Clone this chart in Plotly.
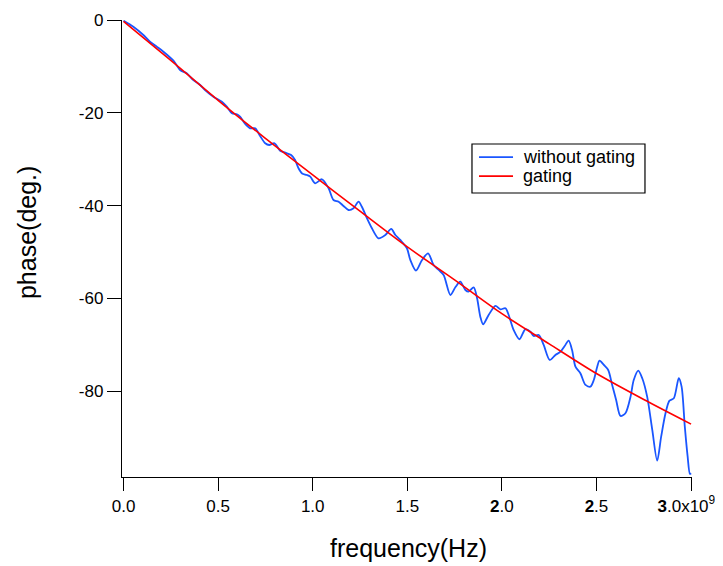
import plotly.graph_objects as go

# frequency in units of 1e9 Hz
freq_blue = [0.0, 0.052, 0.105, 0.140, 0.176, 0.211, 0.264, 0.299, 0.334, 0.369,
             0.405, 0.431, 0.475, 0.520, 0.546, 0.573, 0.599, 0.616, 0.643, 0.669,
             0.696, 0.722, 0.749, 0.770, 0.798, 0.828, 0.855, 0.886, 0.907, 0.925,
             0.944, 0.969, 0.987, 1.013, 1.049, 1.084, 1.110, 1.137, 1.163, 1.189,
             1.216, 1.242, 1.260, 1.287, 1.313, 1.348, 1.384, 1.415, 1.437, 1.463,
             1.498, 1.516, 1.546, 1.578, 1.610, 1.639, 1.666, 1.692, 1.728, 1.754,
             1.780, 1.807, 1.824, 1.851, 1.869, 1.886, 1.901, 1.930, 1.966, 1.992,
             2.019, 2.036, 2.062, 2.093, 2.124, 2.151, 2.168, 2.195, 2.221, 2.253,
             2.283, 2.310, 2.332, 2.353, 2.371, 2.389, 2.415, 2.442, 2.468, 2.486,
             2.504, 2.516, 2.539, 2.562, 2.583, 2.604, 2.627, 2.653, 2.680, 2.697,
             2.721, 2.742, 2.768, 2.795, 2.821, 2.842, 2.865, 2.886, 2.909, 2.935,
             2.950, 2.967, 2.982, 2.994, 3.000]
phase_blue = [-0.15, -1.44, -3.23, -4.68, -5.75, -6.83, -8.77, -10.78, -11.49, -12.93,
              -14.01, -15.09, -16.53, -17.61, -18.69, -20.11, -20.32, -20.84, -22.41, -23.34,
              -23.34, -25.00, -26.57, -26.94, -26.57, -28.17, -28.60, -29.09, -30.17, -31.96,
              -33.08, -33.41, -33.77, -35.19, -34.33, -36.27, -38.79, -39.16, -40.09, -40.95,
              -40.58, -39.16, -40.24, -42.74, -44.89, -47.05, -46.34, -45.04, -46.34, -47.41,
              -49.20, -51.72, -54.03, -51.72, -50.28, -52.80, -53.88, -54.96, -59.27, -57.61,
              -56.40, -58.19, -58.56, -57.61, -59.98, -63.94, -65.58, -63.58, -61.64, -62.35,
              -62.13, -63.58, -66.81, -68.81, -66.66, -67.18, -68.10, -67.89, -70.04, -73.28,
              -72.20, -71.49, -70.26, -69.12, -71.12, -74.72, -76.14, -78.66, -79.03, -77.59,
              -74.72, -73.43, -74.35, -75.43, -78.66, -81.90, -85.34, -84.76, -81.19, -77.59,
              -75.58, -77.22, -81.19, -88.36, -94.98, -89.81, -84.76, -82.05, -81.53, -77.22,
              -79.03, -87.65, -94.12, -97.84, -97.69]

freq_red = [0.0, 0.25, 0.5, 0.75, 1.0, 1.25, 1.5, 1.75, 2.0, 2.25, 2.5, 2.75, 3.0]
phase_red = [-0.3, -8.7, -17.3, -25.5, -33.4, -41.2, -48.9, -56.0, -63.3, -69.8, -76.2, -81.8, -87.1]

series_names = ["without gating", "gating"]
series_colors = ["#1a56ff", "#ff0000"]

x_tickvals = [0.0, 0.5, 1.0, 1.5, 2.0, 2.5, 3.0]
x_ticktext = ["0.0", "0.5", "1.0", "1.5", "<b>2</b>.0", "<b>2</b>.5",
              "<b>3</b>.0x10<sup>9</sup>&nbsp;&nbsp;"]
y_tickvals = [0, -20, -40, -60, -80]
y_ticktext = ["0", "-20", "-40", "-60", "-80"]

scale = 1e9
fig = go.Figure()
fig.add_trace(go.Scatter(x=[f * scale for f in freq_blue], y=phase_blue, mode="lines",
                         name=series_names[0], showlegend=False,
                         line=dict(color=series_colors[0], width=1.8, shape="spline", smoothing=0.8)))
fig.add_trace(go.Scatter(x=[f * scale for f in freq_red], y=phase_red, mode="lines",
                         name=series_names[1], showlegend=False,
                         line=dict(color=series_colors[1], width=1.6, shape="spline", smoothing=0.8)))

# legend drawn as a boxed key (paper coordinates)
shapes = [dict(type="rect", xref="paper", yref="paper", x0=0.614, x1=0.9175, y0=0.6214, y1=0.7287,
               line=dict(color="black", width=1.2), fillcolor="white", layer="above")]
annotations = []
for i, (nm, col) in enumerate(zip(series_names, series_colors)):
    yy = 0.700 - i * 0.0416
    shapes.append(dict(type="line", xref="paper", yref="paper", x0=0.6263, x1=0.686, y0=yy, y1=yy,
                       line=dict(color=col, width=1.6), layer="above"))
    annotations.append(dict(text=nm, x=0.700, y=yy, xref="paper", yref="paper",
                            xanchor="left", yanchor="middle", showarrow=False,
                            font=dict(size=18)))

fnt = "Liberation Sans, Arial, sans-serif"
annotations += [
    dict(text="frequency(Hz)", x=0.502, y=-0.155, xref="paper", yref="paper",
         xanchor="center", yanchor="middle", showarrow=False, font=dict(size=25)),
    dict(text="phase(deg.)", x=-0.1667, y=0.536, xref="paper", yref="paper",
         xanchor="center", yanchor="middle", textangle=-90, showarrow=False,
         font=dict(size=25)),
]

fig.update_layout(
    width=715, height=558,
    margin=dict(l=114, r=31, t=12, b=89, autoexpand=False),
    paper_bgcolor="white", plot_bgcolor="white",
    font=dict(family=fnt, size=17, color="black"),
    showlegend=False,
    xaxis=dict(range=[-0.008e9, 3.005e9], tickvals=[v * scale for v in x_tickvals],
               ticktext=x_ticktext, ticks="outside", ticklen=13, tickwidth=1.2,
               tickcolor="black", showline=True, linecolor="black", linewidth=1.3,
               showgrid=False, zeroline=False, tickfont=dict(size=17),
               ticklabeloverflow="allow"),
    yaxis=dict(range=[-98.5, 0], tickvals=y_tickvals, ticktext=y_ticktext,
               ticks="outside", ticklen=14, tickwidth=1.2, tickcolor="black",
               showline=True, linecolor="black", linewidth=1.3,
               showgrid=False, zeroline=False, tickfont=dict(size=17)),
    shapes=shapes,
    annotations=annotations,
)
fig.write_html("out.html")
